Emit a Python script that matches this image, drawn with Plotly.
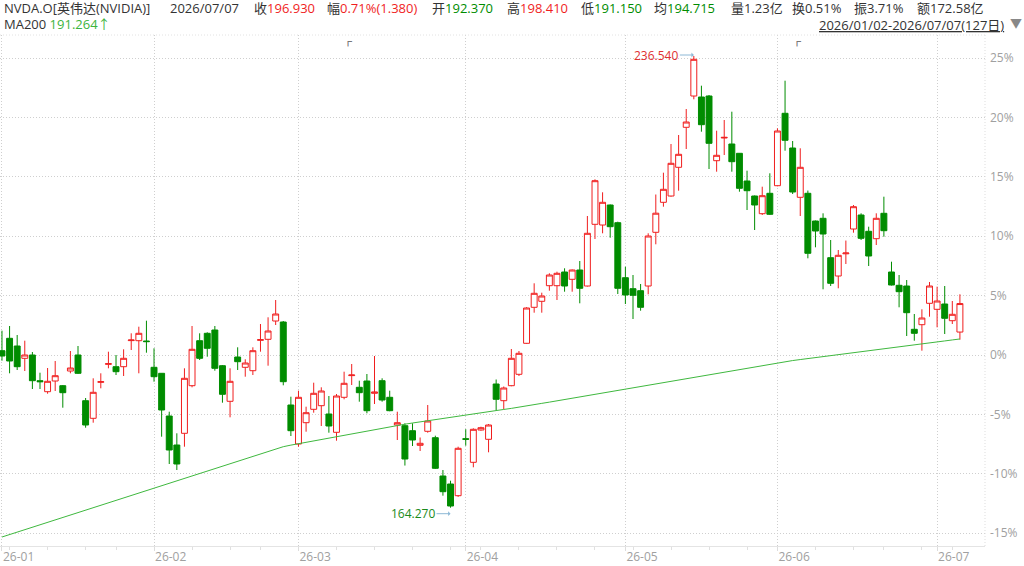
import plotly.graph_objects as go

# daily OHLC, 2026-01-02 .. 2026-07-07 (127 trading days)
open_ = [189.39, 191.37, 190.14, 188.17, 188.70, 184.59, 182.83, 184.54, 183.79, 186.14,
         188.70, 181.39, 178.57, 184.33, 187.21, 186.83, 186.83, 191.00, 190.99, 190.94,
         186.73, 185.77, 178.94, 174.30, 176.17, 183.79, 190.99, 192.17, 192.70, 186.99,
         181.29, 188.38, 186.73, 186.19, 191.05, 191.21, 194.14, 193.98, 180.70, 174.46,
         177.87, 180.01, 180.59, 179.26, 176.33, 181.93, 185.40, 183.53, 184.54, 182.57,
         184.59, 181.93, 177.50, 177.39, 176.59, 174.25, 176.49, 175.47, 169.34, 168.06,
         166.19, 175.31, 171.53, 176.70, 175.21, 184.06, 181.39, 183.79, 185.61, 190.57,
         196.33, 197.29, 199.79, 199.79, 201.98, 200.81, 202.30, 199.74, 209.61, 209.50,
         212.70, 209.87, 201.07, 199.31, 198.99, 199.74, 208.33, 213.13, 214.14, 218.73,
         225.13, 230.14, 229.98, 230.14, 219.79, 223.42, 222.46, 220.97, 216.54, 214.14,
         211.31, 214.57, 215.79, 227.37, 221.82, 213.93, 214.57, 210.14, 210.57, 204.27,
         201.34, 204.89, 208.86, 211.10, 208.49, 207.31, 211.37, 201.98, 199.85, 199.74,
         192.81, 193.55, 196.97, 196.01, 196.86, 194.19, 192.37]
high = [192.59, 193.34, 191.90, 190.99, 189.18, 185.87, 186.62, 187.74, 183.90, 189.34,
        190.14, 181.82, 184.97, 185.77, 189.23, 188.70, 189.61, 192.17, 193.23, 194.19,
        189.77, 185.80, 179.63, 176.17, 186.57, 193.34, 192.17, 192.33, 193.34, 187.10,
        186.57, 189.93, 188.01, 189.93, 193.66, 194.73, 197.50, 194.14, 182.03, 182.99,
        180.43, 184.27, 183.53, 182.14, 182.46, 186.03, 187.26, 184.59, 185.66, 188.54,
        184.97, 182.99, 179.63, 177.77, 177.77, 175.50, 180.70, 175.79, 170.30, 168.59,
        174.03, 176.83, 176.97, 177.23, 177.66, 184.78, 183.66, 189.66, 189.34, 196.35,
        200.17, 198.67, 201.77, 202.03, 202.57, 202.38, 203.74, 210.94, 216.81, 214.73,
        212.78, 210.03, 202.83, 201.50, 200.06, 208.17, 214.38, 217.87, 222.46, 223.90,
        228.06, 236.54, 231.79, 230.30, 224.59, 226.30, 227.63, 221.02, 218.19, 214.22,
        215.63, 217.77, 224.97, 232.59, 222.94, 221.77, 215.01, 210.22, 211.37, 207.10,
        205.50, 207.01, 212.70, 211.37, 209.23, 211.37, 214.03, 203.63, 201.50, 200.70,
        195.26, 196.01, 200.38, 199.63, 199.74, 197.34, 198.41]
low = [187.79, 185.77, 186.30, 186.14, 183.26, 183.26, 182.51, 182.94, 180.27, 185.77,
       185.66, 177.07, 177.87, 183.37, 186.57, 185.50, 185.34, 189.50, 185.77, 189.07,
       184.43, 175.63, 171.26, 170.30, 174.03, 183.53, 187.90, 188.43, 186.19, 181.07,
       178.73, 186.30, 185.23, 185.50, 189.23, 186.99, 193.50, 183.85, 175.74, 174.03,
       176.43, 179.47, 177.34, 176.27, 174.99, 181.61, 183.90, 181.23, 179.37, 180.86,
       181.23, 179.70, 175.10, 171.01, 174.14, 173.34, 176.27, 170.46, 166.19, 164.27,
       166.00, 174.19, 170.73, 176.59, 173.13, 179.82, 180.01, 183.70, 185.34, 190.50,
       195.47, 195.47, 198.99, 197.50, 198.83, 198.83, 196.97, 199.66, 207.26, 208.17,
       207.47, 198.46, 196.86, 194.46, 195.79, 198.41, 206.41, 212.43, 214.03, 214.99,
       221.66, 229.61, 224.43, 218.46, 218.03, 220.70, 218.03, 214.83, 211.90, 208.70,
       211.10, 211.10, 215.70, 221.39, 214.46, 210.94, 204.17, 205.93, 199.21, 199.74,
       199.37, 203.26, 208.27, 207.10, 202.94, 206.30, 207.63, 199.82, 196.33, 191.74,
       190.99, 189.39, 194.83, 193.13, 192.06, 193.66, 191.15]
close = [188.54, 187.74, 186.83, 188.70, 184.59, 184.43, 184.49, 185.39, 182.67, 186.62,
         185.77, 177.50, 182.73, 184.43, 187.31, 186.03, 188.17, 191.10, 192.17, 190.84,
         185.23, 179.90, 173.50, 171.26, 184.97, 189.61, 188.17, 189.77, 186.57, 182.41,
         184.49, 187.63, 187.42, 189.39, 191.15, 192.54, 195.26, 184.43, 176.59, 181.93,
         179.47, 182.57, 182.94, 177.34, 182.14, 184.17, 185.50, 182.67, 179.79, 182.78,
         181.50, 179.79, 177.87, 172.06, 175.10, 174.57, 178.14, 170.57, 166.83, 164.54,
         173.77, 175.21, 176.81, 177.07, 177.50, 181.61, 183.42, 188.17, 188.97, 196.22,
         198.57, 198.14, 201.50, 201.77, 199.74, 202.30, 199.37, 208.17, 216.59, 213.13,
         209.23, 199.37, 198.30, 198.25, 196.33, 207.74, 211.39, 215.21, 219.37, 220.81,
         225.98, 236.01, 225.55, 222.57, 220.65, 223.52, 219.63, 215.37, 214.99, 212.70,
         214.19, 211.21, 224.54, 223.05, 214.78, 218.73, 204.97, 208.54, 208.06, 200.17,
         204.65, 205.02, 212.43, 207.37, 204.54, 210.57, 208.59, 199.90, 198.83, 195.47,
         192.17, 194.62, 199.74, 197.34, 194.57, 195.21, 196.93]
ma200 = [159.58, 159.97, 160.37, 160.76, 161.16, 161.55, 161.94, 162.34, 162.73, 163.13,
         163.52, 163.91, 164.31, 164.70, 165.10, 165.49, 165.88, 166.28, 166.67, 167.07,
         167.46, 167.85, 168.25, 168.64, 169.04, 169.43, 169.82, 170.22, 170.61, 171.01,
         171.40, 171.79, 172.19, 172.58, 172.98, 173.37, 173.74, 174.03, 174.28, 174.51,
         174.74, 174.98, 175.21, 175.44, 175.67, 175.90, 176.14, 176.37, 176.60, 176.83,
         177.06, 177.25, 177.44, 177.63, 177.82, 178.01, 178.20, 178.39, 178.58, 178.77,
         178.96, 179.15, 179.32, 179.49, 179.66, 179.82, 179.99, 180.16, 180.33, 180.54,
         180.75, 180.96, 181.16, 181.37, 181.58, 181.79, 182.00, 182.20, 182.41, 182.62,
         182.83, 183.04, 183.24, 183.45, 183.66, 183.87, 184.08, 184.29, 184.50, 184.70,
         184.91, 185.12, 185.32, 185.53, 185.74, 185.95, 186.15, 186.36, 186.57, 186.77,
         186.98, 187.19, 187.39, 187.60, 187.81, 187.97, 188.12, 188.28, 188.44, 188.59,
         188.75, 188.91, 189.07, 189.22, 189.38, 189.54, 189.69, 189.85, 190.01, 190.16,
         190.32, 190.48, 190.64, 190.79, 190.95, 191.11, 191.264]

month_starts = [0, 20, 39, 61, 82, 102, 123]
month_labels = ["26-01", "26-02", "26-03", "26-04", "26-05", "26-06", "26-07"]
week_starts = [1, 6, 11, 15, 25, 30, 34, 44, 49, 54, 59, 63, 68, 73, 78, 83, 88, 93, 98,
               107, 112, 116, 121, 125]
pct_levels = [-15, -10, -5, 0, 5, 10, 15, 20, 25]
base_price = 188.7      # price at the 0% line
price_per_pct = 1.9

RED = "#f01e1e"
GREEN = "#008c00"
TXT = "#333333"
GRID = "#cfcfcf"
FONT = "Open Sans, Noto Sans CJK SC, sans-serif"

idx = list(range(len(close)))
hi_i = high.index(max(high))
lo_i = low.index(min(low))

fig = go.Figure()
fig.add_trace(go.Candlestick(
    x=idx, open=open_, high=high, low=low, close=close,
    increasing=dict(line=dict(color=RED, width=1), fillcolor="white"),
    decreasing=dict(line=dict(color=GREEN, width=1), fillcolor=GREEN),
    whiskerwidth=0, hoverinfo="skip", showlegend=False))
fig.add_trace(go.Scatter(x=idx, y=ma200, mode="lines",
                         line=dict(color="#3fb83f", width=1),
                         hoverinfo="skip", showlegend=False))

# plot area in px: x 0..985, y 35..546
W, TOP, BOT = 985.0, 35.0, 546.0


def px(x):
    return x / W


def py(y):
    return (BOT - y) / (BOT - TOP)


def sp(color, s):
    return '<span style="color:%s">%s</span>' % (color, s)


header = [
    (2, 8, "NVDA.O[英伟达(NVIDIA)]"),
    (168, 8, "2026/07/07"),
    (252, 8, "收" + sp(RED, "196.930")),
    (325, 8, "幅" + sp(RED, "0.71%(1.380)")),
    (430, 8, "开" + sp(GREEN, "192.370")),
    (505, 8, "高" + sp(RED, "198.410")),
    (579, 8, "低" + sp(GREEN, "191.150")),
    (652, 8, "均" + sp(GREEN, "194.715")),
    (729, 8, "量1.23亿"),
    (790, 8, "换0.51%"),
    (852, 8, "振3.71%"),
    (915, 8, "额172.58亿"),
    (2, 24, "MA200 " + sp("#3cb43c", "191.264↑")),
]
ann = []
for x, y, t in header:
    ann.append(dict(x=px(x), y=py(y), xref="paper", yref="paper", text=t,
                    showarrow=False, xanchor="left", yanchor="middle",
                    font=dict(family=FONT, size=13, color=TXT)))
ann.append(dict(x=px(1006), y=py(25), xref="paper", yref="paper",
                text="<u>2026/01/02-2026/07/07(127日)</u>", showarrow=False,
                xanchor="right", yanchor="middle",
                font=dict(family=FONT, size=13, color=TXT)))
ann.append(dict(x=px(1008), y=py(24), xref="paper", yref="paper", text="▼",
                showarrow=False, xanchor="left", yanchor="middle",
                font=dict(family=FONT, size=12, color="#888888")))
for mx in (348, 797):
    ann.append(dict(x=px(mx), y=py(41), xref="paper", yref="paper", text="┏",
                    showarrow=False, xanchor="center", yanchor="middle",
                    font=dict(family=FONT, size=8, color="#777777")))

ann.append(dict(x=hi_i, y=high[hi_i], text="%.3f" % high[hi_i], showarrow=True,
                ax=-14, ay=0, xanchor="right", yshift=1, arrowhead=1, arrowsize=0.8,
                arrowwidth=1, arrowcolor="#8db8d6", standoff=0,
                font=dict(family=FONT, size=12, color="#e03030")))
ann.append(dict(x=lo_i, y=low[lo_i], text="%.3f" % low[lo_i], showarrow=True,
                ax=-14, ay=0, xanchor="right", yshift=-6, arrowhead=1, arrowsize=0.8,
                arrowwidth=1, arrowcolor="#8db8d6", standoff=0,
                font=dict(family=FONT, size=12, color="#1a8a1a")))

shapes = [
    dict(type="line", xref="paper", yref="paper", x0=1, x1=1, y0=0, y1=1,
         line=dict(color="#dddddd", width=1, dash="1px,2px")),
    dict(type="line", xref="paper", yref="paper", x0=0, x1=1, y0=1, y1=1,
         line=dict(color="#e2e2e2", width=1, dash="1px,2px")),
]

fig.update_layout(
    template="none",
    width=1024, height=566,
    margin=dict(l=0, r=39, t=35, b=20),
    paper_bgcolor="white", plot_bgcolor="white",
    showlegend=False,
    boxgap=0.22, boxgroupgap=0,
    annotations=ann, shapes=shapes,
    xaxis=dict(
        range=[-0.26, 129.3], rangeslider=dict(visible=False), automargin=False,
        tickmode="array", tickvals=month_starts, ticktext=month_labels,
        ticklabelposition="outside right",
        tickfont=dict(family=FONT, size=12, color="#a0a0a0"),
        ticks="outside", ticklen=4, tickcolor="#dddddd",
        showgrid=True, gridcolor=GRID, griddash="1px,2px", gridwidth=1,
        showline=True, linecolor="#e4e4e4", linewidth=1, zeroline=False,
        minor=dict(tickmode="array", tickvals=week_starts, ticks="outside",
                   ticklen=3, tickcolor="#e0e0e0", showgrid=False),
    ),
    yaxis=dict(
        side="right", range=[158.14, 239.9], automargin=False,
        tickmode="array",
        tickvals=[base_price + price_per_pct * p for p in pct_levels],
        ticktext=["%d%%" % p for p in pct_levels],
        tickfont=dict(family=FONT, size=12, color="#a0a0a0"),
        ticks="", ticklabelstandoff=4,
        showgrid=True, gridcolor=GRID, griddash="1px,2px", gridwidth=1,
        showline=False, zeroline=False,
    ),
)

# the page's default 8px body margin would shift the whole figure
fig.write_html("out.html", config={"displayModeBar": False},
               post_script="document.body.style.margin='0px';")
